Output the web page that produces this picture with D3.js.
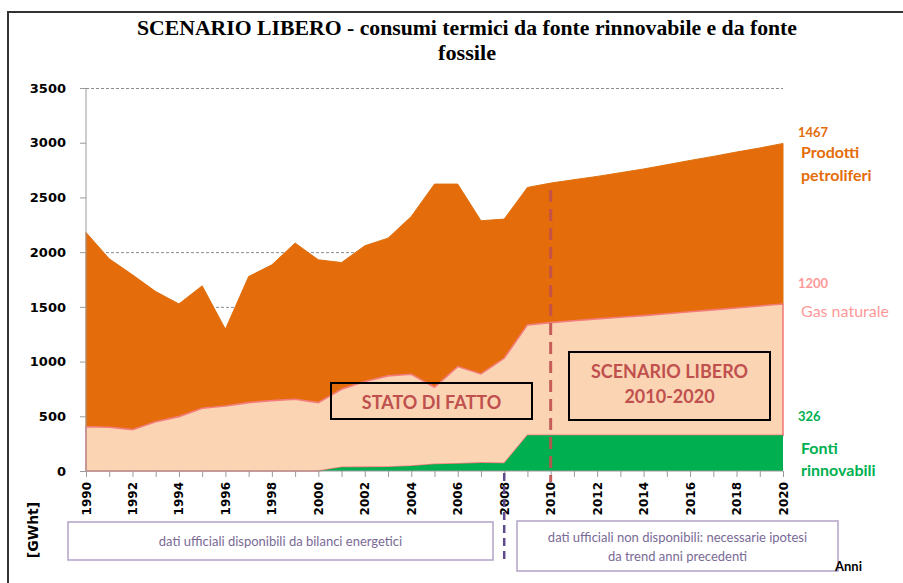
<!DOCTYPE html>
<html>
<head>
<meta charset="utf-8">
<script src="https://cdn.jsdelivr.net/npm/d3@7"></script>
<style>
  body { margin: 0; background: #fff; }
  svg { display: block; }
</style>
</head>
<body>
<div id="chart"></div>
<script>
const years = d3.range(1990, 2021);
// GWh termici per fonte
const rinnovabili = [0, 0, 0, 0, 0, 0, 0, 0, 0, 0, 0, 34, 35, 36, 45, 62, 66, 74, 70, 326,
  326, 326, 326, 326, 326, 326, 326, 326, 326, 326, 326];
const gasNaturale = [405, 400, 378, 451, 497, 573, 594, 625, 643, 656, 625, 713, 782, 833, 839, 703, 888, 813, 960, 1009,
  1030, 1047, 1064, 1079, 1094, 1111, 1129, 1146, 1164, 1182, 1200];
const petroliferi = [1775, 1539, 1415, 1189, 1030, 1119, 702, 1152, 1241, 1427, 1305, 1158, 1241, 1259, 1442, 1857, 1668, 1400, 1272, 1256,
  1275, 1289, 1302, 1321, 1340, 1362, 1383, 1403, 1425, 1444, 1467];
const yTicks = [0, 500, 1000, 1500, 2000, 2500, 3000, 3500];
const gridValues = [500, 1000, 1500, 2000, 3500];
const xLabels = d3.range(1990, 2021, 2);
const seriesKeys = ["rinnovabili", "gas", "petroliferi"];

const w = 903, h = 583;
const calibri = "Lato, 'Open Sans', sans-serif";
const colors = { rinnovabili: "#00b050", gas: "#fbd4b4", petroliferi: "#e46c0a" };

const svg = d3.select("#chart").append("svg").attr("width", w).attr("height", h);

// chart frame
svg.append("rect")
  .attr("x", 8).attr("y", 12).attr("width", 1000).attr("height", 1000)
  .attr("fill", "none").attr("stroke", "#333").attr("stroke-width", 2);

const x = d3.scaleLinear().domain([1990, 2020]).range([86, 783]);
const y = d3.scaleLinear().domain([0, 3500]).range([471, 88]);

const table = years.map((yr, i) => ({
  year: yr, rinnovabili: rinnovabili[i], gas: gasNaturale[i], petroliferi: petroliferi[i]
}));
const stacked = d3.stack().keys(seriesKeys)(table);

// grid
svg.append("g").selectAll("line").data(gridValues).join("line")
  .attr("x1", 86).attr("x2", 783)
  .attr("y1", d => y(d) + 0.5).attr("y2", d => y(d) + 0.5)
  .attr("stroke", "#8c8c8c").attr("stroke-dasharray", "3,2");

const area = d3.area()
  .x(d => x(d.data.year))
  .y0(d => y(d[0]))
  .y1(d => y(d[1]));

const g = svg.append("g");
// draw petroliferi first, then gas (with its reddish border), then renewables
const byKey = k => stacked.find(s => s.key === k);
g.append("path").datum(byKey("petroliferi")).attr("d", area)
  .attr("fill", colors.petroliferi).attr("stroke", "#e0700f").attr("stroke-width", 1);
g.append("path").datum(byKey("gas")).attr("d", area)
  .attr("fill", colors.gas).attr("stroke", "#f47c7c").attr("stroke-width", 1.6);
g.append("path").datum(byKey("rinnovabili")).attr("d", area)
  .attr("fill", colors.rinnovabili).attr("stroke", "none");

// y axis
const yAxis = svg.append("g").attr("transform", "translate(86,0)")
  .call(d3.axisLeft(y).tickValues(yTicks).tickSize(6).tickPadding(14).tickFormat(d3.format("d")));
yAxis.select(".domain").attr("stroke", "#9a9a9a").attr("d", `M0,${y(0)}V${y(3500)}`);
yAxis.selectAll(".tick line").attr("stroke", "#9a9a9a");
yAxis.selectAll("text")
  .attr("font-family", "'DejaVu Sans', sans-serif").attr("font-weight", "bold")
  .attr("font-size", 13).attr("fill", "#000");

// x axis
const xAxis = svg.append("g").attr("transform", `translate(0,${y(0)})`)
  .call(d3.axisBottom(x).tickValues(years).tickSize(6).tickFormat(""));
xAxis.select(".domain").attr("stroke", "#9a9a9a").attr("d", `M86,0H783`);
xAxis.selectAll(".tick line").attr("stroke", "#9a9a9a");

svg.append("g").selectAll("text").data(xLabels).join("text")
  .attr("transform", d => `translate(${x(d) + 4.5},482) rotate(-90)`)
  .attr("text-anchor", "end")
  .attr("font-family", "'DejaVu Sans', sans-serif").attr("font-weight", "bold")
  .attr("font-size", 12).attr("fill", "#000")
  .text(d => d);

// title
const title = svg.append("text")
  .attr("text-anchor", "middle")
  .attr("font-family", "'Liberation Serif', 'Times New Roman', serif")
  .attr("font-weight", "bold").attr("font-size", 20).attr("fill", "#000");
title.append("tspan").attr("x", 467).attr("y", 35)
  .attr("textLength", 660).attr("lengthAdjust", "spacingAndGlyphs")
  .text("SCENARIO LIBERO - consumi termici da fonte rinnovabile e da fonte");
title.append("tspan").attr("x", 467).attr("y", 60)
  .attr("textLength", 58).attr("lengthAdjust", "spacingAndGlyphs")
  .text("fossile");

// 2010 scenario divider
svg.append("line")
  .attr("x1", x(2010)).attr("x2", x(2010))
  .attr("y1", 190).attr("y2", 482)
  .attr("stroke", "#c0504d").attr("stroke-opacity", 0.9)
  .attr("stroke-width", 3).attr("stroke-dasharray", "12,7");

// annotation boxes in the plot
const boxes = [
  { x0: 331, y0: 383, x1: 532, y1: 419, lines: ["STATO DI FATTO"], ly: [409] },
  { x0: 569, y0: 352, x1: 770, y1: 420, lines: ["SCENARIO LIBERO", "2010-2020"], ly: [378, 403] }
];
boxes.forEach(b => {
  svg.append("rect")
    .attr("x", b.x0).attr("y", b.y0).attr("width", b.x1 - b.x0).attr("height", b.y1 - b.y0)
    .attr("fill", "none").attr("stroke", "#000").attr("stroke-width", 2);
  b.lines.forEach((t, i) => {
    svg.append("text")
      .attr("x", (b.x0 + b.x1) / 2).attr("y", b.ly[i])
      .attr("text-anchor", "middle")
      .attr("font-family", calibri).attr("font-weight", "bold")
      .attr("font-size", 18).attr("fill", "#c0504d")
      .text(t);
  });
});

// right-side series labels
const rightLabels = [
  { text: "1467", y: 137, color: "#e46c0a", size: 13, weight: "bold" },
  { text: "Prodotti", y: 158, color: "#e46c0a", size: 16, weight: "bold" },
  { text: "petroliferi", y: 181, color: "#e46c0a", size: 16, weight: "bold" },
  { text: "1200", y: 288, color: "#ff9999", size: 13, weight: "bold" },
  { text: "Gas naturale", y: 317, color: "#ff9999", size: 16, weight: "normal" },
  { text: "326", y: 421, color: "#00b050", size: 13, weight: "bold" },
  { text: "Fonti", y: 454, color: "#00b050", size: 16, weight: "bold" },
  { text: "rinnovabili", y: 476, color: "#00b050", size: 16, weight: "bold" }
];
svg.append("g").selectAll("text").data(rightLabels).join("text")
  .attr("x", d => (d.size === 13 ? 798 : 801)).attr("y", d => d.y)
  .attr("font-family", calibri).attr("font-weight", d => d.weight)
  .attr("font-size", d => d.size).attr("fill", d => d.color)
  .text(d => d.text);

// unit label
svg.append("text")
  .attr("transform", "translate(38,530) rotate(-90)")
  .attr("text-anchor", "middle")
  .attr("font-family", "'DejaVu Sans', sans-serif").attr("font-weight", "bold")
  .attr("font-size", 14).attr("fill", "#000")
  .text("[GWht]");

// bottom data-source boxes
const dataBoxes = [
  { x0: 68, y0: 522, x1: 493, y1: 560, lines: ["dati ufficiali disponibili da bilanci energetici"], ly: [546] },
  { x0: 517, y0: 521, x1: 838, y1: 571, lines: ["dati ufficiali non disponibili: necessarie ipotesi", "da trend anni precedenti"], ly: [542, 561] }
];
dataBoxes.forEach(b => {
  svg.append("rect")
    .attr("x", b.x0).attr("y", b.y0).attr("width", b.x1 - b.x0).attr("height", b.y1 - b.y0)
    .attr("fill", "#fff").attr("stroke", "#b3a2c7").attr("stroke-width", 1.5);
  b.lines.forEach((t, i) => {
    svg.append("text")
      .attr("x", (b.x0 + b.x1) / 2).attr("y", b.ly[i])
      .attr("text-anchor", "middle")
      .attr("font-family", calibri)
      .attr("font-size", 13).attr("fill", "#7a6a96")
      .text(t);
  });
});

// 2008 divider between official and estimated data
svg.append("line")
  .attr("x1", x(2008)).attr("x2", x(2008))
  .attr("y1", 473).attr("y2", 560)
  .attr("stroke", "#5f4b8b").attr("stroke-width", 2.5).attr("stroke-dasharray", "8,5");

svg.append("text")
  .attr("x", 835).attr("y", 571)
  .attr("font-family", calibri).attr("font-weight", "bold")
  .attr("font-size", 13).attr("fill", "#000")
  .text("Anni");
</script>
</body>
</html>
